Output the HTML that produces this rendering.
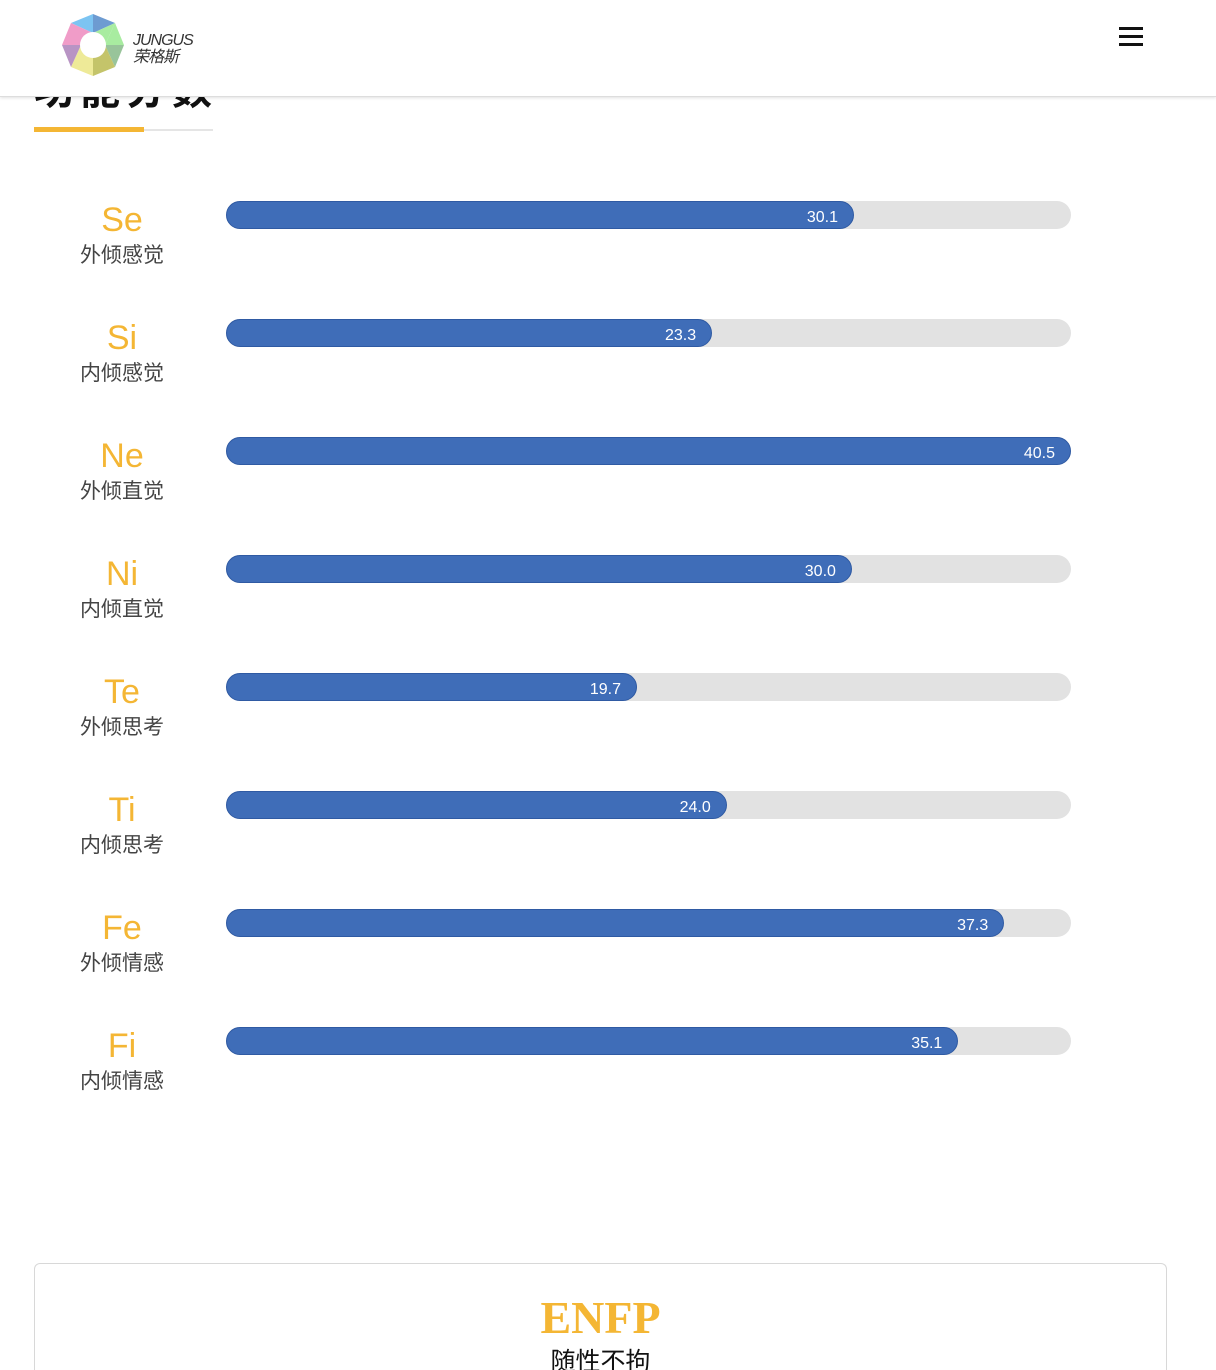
<!DOCTYPE html>
<html><head><meta charset="utf-8">
<style>
html,body{margin:0;width:1216px;height:1370px;overflow:hidden}
body{background:#fff;font-family:"Liberation Sans","Noto Sans CJK SC",sans-serif;position:relative}
.hdr{position:absolute;left:0;top:0;width:1216px;height:96px;background:#fff;border-bottom:1px solid #ddd;box-shadow:0 1px 3px rgba(0,0,0,.12);z-index:5}
.title{position:absolute;left:34px;top:58px;font-size:40px;font-weight:bold;color:#111;letter-spacing:6px}
.ul1{position:absolute;left:34px;top:127px;width:110px;height:5px;background:#f4b634}
.ul2{position:absolute;left:144px;top:129px;width:69px;height:2px;background:#e5e5e5}
.abbr{position:absolute;width:160px;left:42px;text-align:center;color:#f4b634;font-size:34px}
.cn{position:absolute;width:160px;left:42px;text-align:center;color:#444;font-size:21px}
.track{position:absolute;left:226px;width:845px;height:28px;border-radius:14px;background:#e2e2e2}
.fill{position:absolute;left:0;top:0;height:28px;border-radius:14px;background:#3f6db8;box-sizing:border-box;border:1px solid #2f5aa3}
.val{position:absolute;right:15px;top:7px;color:#fff;font-size:16px;line-height:18px}
.card{position:absolute;left:34px;top:1263px;width:1131px;height:106px;border:1px solid #d8d8d8;border-bottom:none;border-radius:6px 6px 0 0;overflow:hidden}
</style></head><body>
<div class="hdr">
<svg style="position:absolute;left:60px;top:12px" width="66" height="66" viewBox="-33 -33 66 66">
<polygon points="0,-31 22,-22 0,-12" fill="#6d9bd1"/><polygon points="0,-31 -22,-22 0,-12" fill="#7cc4f2"/>
<polygon points="22,-22 31,0 12,0" fill="#a8eca0"/><polygon points="0,-12 22,-22 12,0" fill="#a8eca0"/>
<polygon points="31,0 22,22 12,0" fill="#98c49a"/><polygon points="22,22 0,31 0,12 12,0" fill="#c4c46a"/>
<polygon points="0,31 -22,22 -12,0 0,12" fill="#eeea98"/><polygon points="-22,22 -31,0 -12,0" fill="#b894c4"/>
<polygon points="-31,0 -22,-22 0,-12 -12,0" fill="#f09cc8"/>
<circle r="13" fill="#fff"/></svg>
<div style="position:absolute;left:133px;top:32px;font-size:16px;font-style:italic;color:#333;line-height:17px;letter-spacing:-1px">JUNGUS<br>荣格斯</div>
<div style="position:absolute;left:1119px;top:27px;width:24px">
<div style="height:3px;background:#111;margin-bottom:5px"></div><div style="height:3px;background:#111;margin-bottom:5px"></div><div style="height:3px;background:#111"></div></div>
</div>
<div class="title">功能分数</div>
<div class="ul1"></div>
<div class="ul2"></div>
<div id="chart"></div>
<div class="card">
<div style="position:absolute;left:0;width:1131px;top:28px;text-align:center;font-family:'Liberation Serif',serif;font-weight:bold;font-size:46px;color:#f4b634;line-height:52px">ENFP</div>
<div style="position:absolute;left:0;width:1131px;top:78px;text-align:center;font-size:25px;color:#111">随性不拘</div>
</div>
<script>
const codes=["Se","Si","Ne","Ni","Te","Ti","Fe","Fi"];
const names=["外倾感觉","内倾感觉","外倾直觉","内倾直觉","外倾思考","内倾思考","外倾情感","内倾情感"];
const values=[30.1,23.3,40.5,30.0,19.7,24.0,37.3,35.1];
const maxVal=40.5;
const chart=document.getElementById('chart');
const xScale=v=>v/maxVal*845;
const rowTop=i=>201+i*118;
codes.forEach((c,i)=>{
  const y=rowTop(i);
  const a=document.createElement('div');a.className='abbr';a.style.top=(y)+'px';a.textContent=c;
  
  
  const n=document.createElement('div');n.className='cn';n.style.top=(y+38)+'px';n.textContent=names[i];
  
  
  const t=document.createElement('div');t.className='track';t.style.top=y+'px';
  
  
  const f=document.createElement('div');f.className='fill';f.style.width=Math.max(28,xScale(values[i]))+'px';
  
  
  const v=document.createElement('span');v.className='val';v.textContent=values[i].toFixed(1);
  
  
  f.appendChild(v);t.appendChild(f);
  chart.appendChild(a);chart.appendChild(n);chart.appendChild(t);
});
</script>
</body></html>
